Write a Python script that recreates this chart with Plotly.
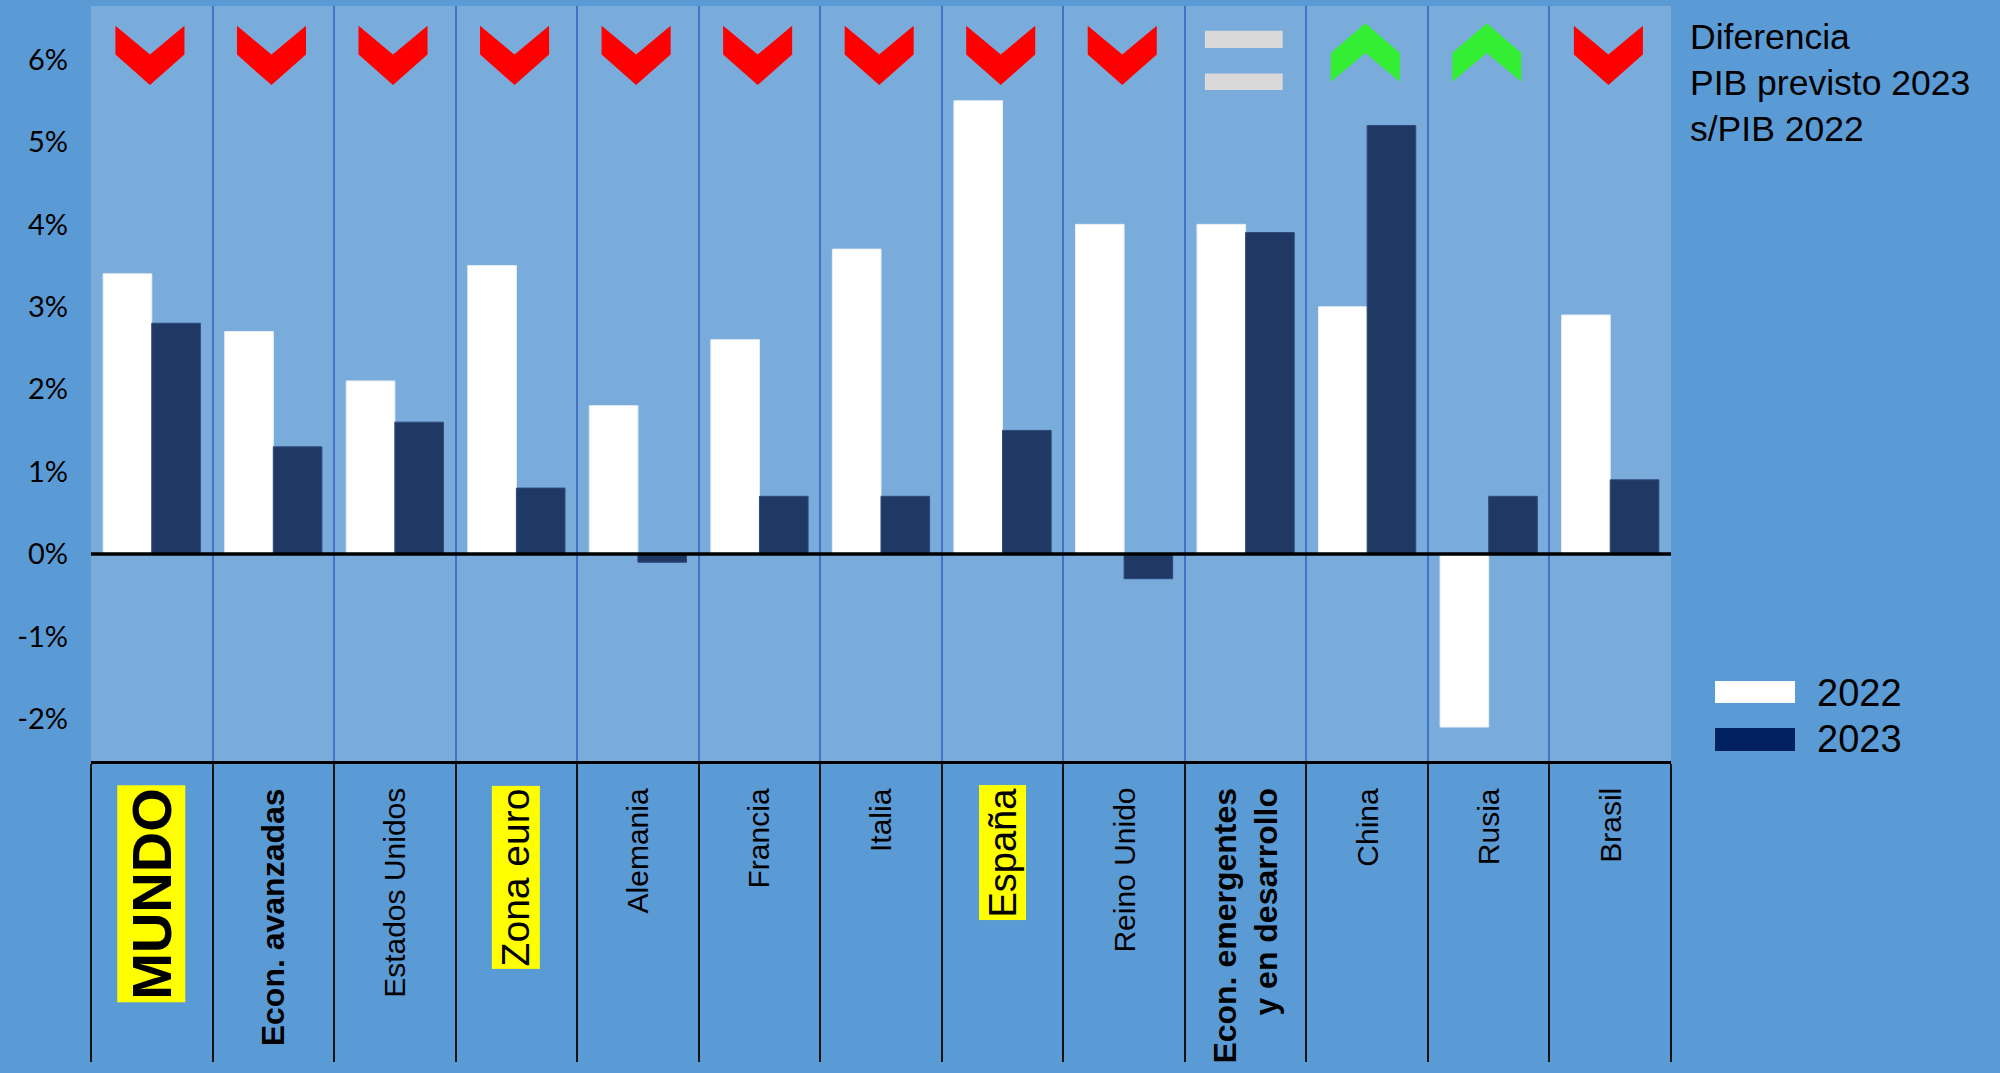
import plotly.graph_objects as go

# ---------------- data ----------------
categories = ["MUNDO", "Econ. avanzadas", "Estados Unidos", "Zona euro", "Alemania",
              "Francia", "Italia", "España", "Reino Unido",
              "Econ. emergentes<br>y en desarrollo", "China", "Rusia", "Brasil"]
gdp_2022 = [3.4, 2.7, 2.1, 3.5, 1.8, 2.6, 3.7, 5.5, 4.0, 4.0, 3.0, -2.1, 2.9]
gdp_2023 = [2.8, 1.3, 1.6, 0.8, -0.1, 0.7, 0.7, 1.5, -0.3, 3.9, 5.2, 0.7, 0.9]
trend = ["down", "down", "down", "down", "down", "down", "down", "down", "down",
         "equal", "up", "up", "down"]
series_names = ["2022", "2023"]
y_tickvals = [-2, -1, 0, 1, 2, 3, 4, 5, 6]
y_ticktext = ["-2%", "-1%", "0%", "1%", "2%", "3%", "4%", "5%", "6%"]
title_text = "Diferencia<br>PIB previsto 2023<br>s/PIB 2022"

# ---------------- styles ----------------
PAPER = "#5B9BD5"
PLOT = "#7AACDB"
C2022 = "#FFFFFF"
C2023 = "#203864"
LEG2023 = "#002060"
DIVIDER = "#4472C4"
FONT = "Liberation Sans, Arial, sans-serif"

label_style = {
    "MUNDO": dict(size=56, bold=True, hl=True),
    "Econ. avanzadas": dict(size=32, bold=True, hl=False),
    "Zona euro": dict(size=39, bold=False, hl=True),
    "España": dict(size=38, bold=False, hl=True),
    "Econ. emergentes<br>y en desarrollo": dict(size=32, bold=True, hl=False),
}
default_style = dict(size=30, bold=False, hl=False)

# pixel geometry of the plot area
L, R, T, B = 91, 1671, 6, 761
W, H = 2000, 1073
PH = B - T


def py2paper(py):
    return (B - py) / PH


def px2paper(px):
    return (px - L) / (R - L)


x_idx = list(range(len(categories)))

fig = go.Figure()
fig.add_trace(go.Bar(x=x_idx, y=gdp_2022, name=series_names[0],
                     marker=dict(color=C2022, line=dict(color="#E8EEF6", width=1)),
                     showlegend=False))
fig.add_trace(go.Bar(x=x_idx, y=gdp_2023, name=series_names[1],
                     marker=dict(color=C2023, line=dict(color="#2E4A7A", width=1)),
                     showlegend=False))

shapes = []
# zero line drawn above the bars
shapes.append(dict(type="line", xref="paper", x0=0, x1=1, yref="y", y0=0, y1=0,
                   line=dict(color="black", width=3.5), layer="above"))

# trend glyphs (chevrons / equals) above each category
hw = 0.284
for i, t in enumerate(trend):
    c = x_idx[i] - 0.015
    if t == "down":
        pts = [(c - hw, 6.41), (c, 6.06), (c + hw, 6.41), (c + hw, 6.06), (c, 5.69), (c - hw, 6.06)]
        col = "#FF0000"
    elif t == "up":
        pts = [(c - hw, 6.08), (c, 6.44), (c + hw, 6.08), (c + hw, 5.73), (c, 6.08), (c - hw, 5.73)]
        col = "#33EE33"
    else:
        for (ya, yb) in [(6.14, 6.35), (5.63, 5.83)]:
            shapes.append(dict(type="rect", xref="x", yref="y", x0=c - 0.32, x1=c + 0.32,
                               y0=ya, y1=yb, fillcolor="#D9D9D9", line=dict(width=0),
                               layer="above"))
        continue
    path = "M " + " L ".join(f"{x:.4f},{y:.4f}" for x, y in pts) + " Z"
    shapes.append(dict(type="path", xref="x", yref="y", path=path, fillcolor=col,
                       line=dict(width=0), layer="above"))

# manual legend swatches
leg_rows = [(681, 703, C2022), (728, 751, LEG2023)]
for (y0p, y1p, col) in leg_rows:
    shapes.append(dict(type="rect", xref="paper", yref="paper",
                       x0=px2paper(1715), x1=px2paper(1795),
                       y0=py2paper(y1p), y1=py2paper(y0p),
                       fillcolor=col, line=dict(width=0)))

annotations = []
# category labels (rotated, top-aligned under the axis)
for i, cat in enumerate(categories):
    st = label_style.get(cat, default_style)
    txt = f"<b>{cat}</b>" if st["bold"] else cat
    if "<br>" in cat and st["bold"]:
        txt = "<br>".join(f"<b>{p}</b>" for p in cat.split("<br>"))
    annotations.append(dict(
        x=x_idx[i], xref="x", y=py2paper(785), yref="paper",
        text=txt, textangle=-90, showarrow=False,
        xanchor="center", yanchor="top", align="right",
        font=dict(family=FONT, size=st["size"], color="black"),
        bgcolor="#FFFF00" if st["hl"] else "rgba(0,0,0,0)",
        borderpad=2,
    ))

# title / note at right
annotations.append(dict(
    x=px2paper(1688), xref="paper", y=py2paper(83), yref="paper",
    text=title_text, showarrow=False, xanchor="left", yanchor="middle", align="left",
    font=dict(family=FONT, size=35.5, color="black")))

# legend texts
for (yc, name) in [(693, series_names[0]), (739, series_names[1])]:
    annotations.append(dict(
        x=px2paper(1815), xref="paper", y=py2paper(yc), yref="paper",
        text=name, showarrow=False, xanchor="left", yanchor="middle",
        font=dict(family=FONT, size=38, color="black")))

fig.update_layout(
    width=W, height=H,
    margin=dict(l=L, r=W - R, t=T, b=H - B, autoexpand=False),
    paper_bgcolor=PAPER, plot_bgcolor=PLOT,
    barmode="group", bargap=0.2, bargroupgap=0,
    showlegend=False,
    shapes=shapes, annotations=annotations,
    xaxis=dict(range=[-0.5, 12.5], tickvals=[i - 0.5 for i in range(len(categories) + 1)],
               showticklabels=False, ticks="outside", ticklen=298, tickwidth=2,
               tickcolor="#111111", showgrid=True, gridcolor=DIVIDER, gridwidth=1.5,
               showline=True, linecolor="black", linewidth=3, zeroline=False,
               automargin=False),
    yaxis=dict(range=[-2.512, 6.65], tickvals=y_tickvals, ticktext=y_ticktext,
               showgrid=False, zeroline=False, showline=False, ticks="",
               ticklabelstandoff=22, automargin=False,
               tickfont=dict(family="Lato, Liberation Sans, sans-serif", size=29, color="black")),
)

fig.write_html("out.html", config={"displayModeBar": False},
               post_script="document.body.style.margin='0px';document.body.style.overflow='hidden';")
